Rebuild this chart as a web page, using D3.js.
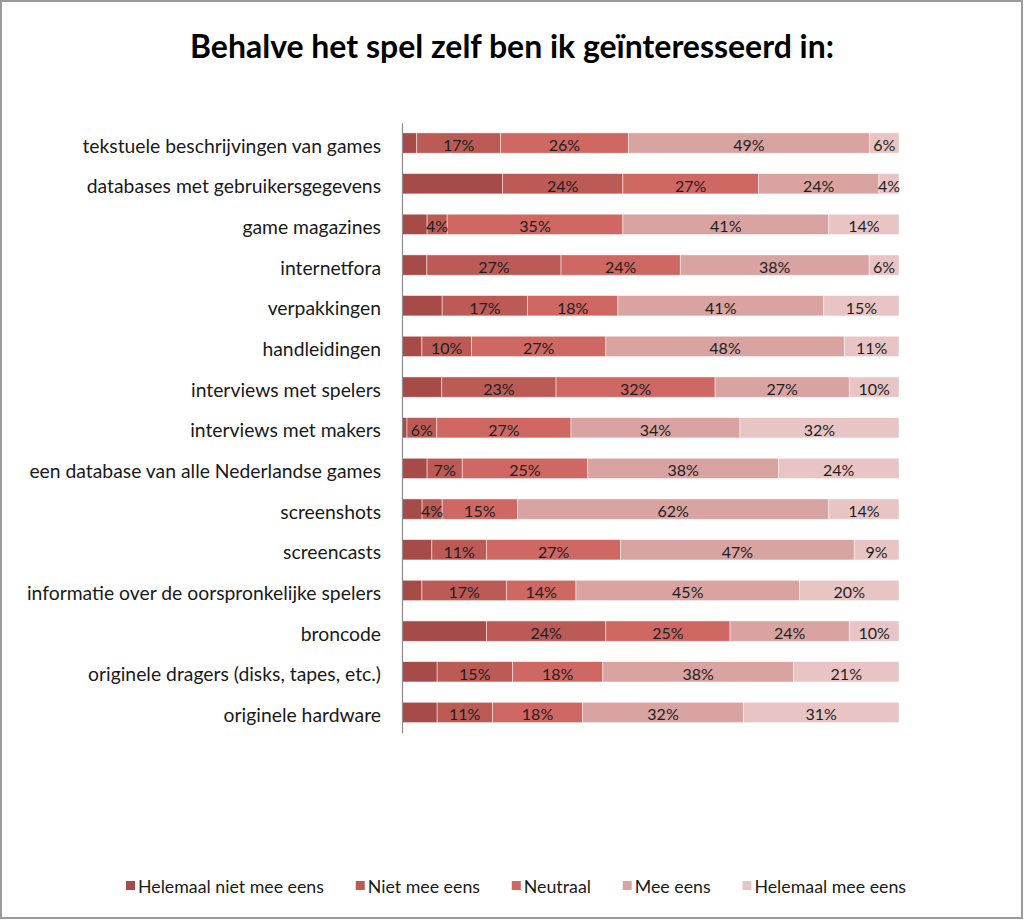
<!DOCTYPE html>
<html>
<head>
<meta charset="utf-8">
<script src="https://cdn.jsdelivr.net/npm/d3@7"></script>
<style>
  html, body { margin: 0; padding: 0; background: #fff; }
  svg { display: block; }
</style>
</head>
<body>
<svg id="chart" width="1024" height="920"></svg>
<script>
const title = "Behalve het spel zelf ben ik geïnteresseerd in:";
const categories = [
  "tekstuele beschrijvingen van games",
  "databases met gebruikersgegevens",
  "game magazines",
  "internetfora",
  "verpakkingen",
  "handleidingen",
  "interviews met spelers",
  "interviews met makers",
  "een database van alle Nederlandse games",
  "screenshots",
  "screencasts",
  "informatie over de oorspronkelijke spelers",
  "broncode",
  "originele dragers (disks, tapes, etc.)",
  "originele hardware"
];
const seriesNames = ["Helemaal niet mee eens", "Niet mee eens", "Neutraal", "Mee eens", "Helemaal mee eens"];
const helemaalNiet = [3, 20, 5, 5, 8, 4, 8, 1, 5, 4, 6, 4, 17, 7, 7];
const nietMee      = [17, 24, 4, 27, 17, 10, 23, 6, 7, 4, 11, 17, 24, 15, 11];
const neutraal     = [26, 27, 35, 24, 18, 27, 32, 27, 25, 15, 27, 14, 25, 18, 18];
const meeEens      = [49, 24, 41, 38, 41, 48, 27, 34, 38, 62, 47, 45, 24, 38, 32];
const helemaalMee  = [6, 4, 14, 6, 15, 11, 10, 32, 24, 14, 9, 20, 10, 21, 31];
const colors = ["#a64b48", "#bc5b56", "#cf6763", "#d9a3a1", "#e8c5c4"];

const seriesValues = [helemaalNiet, nietMee, neutraal, meeEens, helemaalMee];
const rows = categories.map((c, i) => {
  const r = { cat: c };
  seriesNames.forEach((s, j) => r[s] = seriesValues[j][i]);
  return r;
});

const svg = d3.select("#chart");
const W = 1024, H = 920;
const FONT = "Lato, 'Open Sans', sans-serif";

svg.append("rect").attr("x", 0).attr("y", 0).attr("width", W).attr("height", H).attr("fill", "#fff");
svg.append("rect").attr("x", 1).attr("y", 1).attr("width", 1021).attr("height", 917)
  .attr("fill", "none").attr("stroke", "#9a9a9a").attr("stroke-width", 2);

function fitWidth(sel, target) {
  const node = sel.node();
  const fs = parseFloat(sel.attr("font-size"));
  const w = node.getComputedTextLength();
  sel.attr("font-size", (fs * target / w).toFixed(2));
}

// Title
const t = svg.append("text")
  .attr("x", 512).attr("y", 58)
  .attr("text-anchor", "middle")
  .attr("font-family", FONT).attr("font-weight", "bold")
  .attr("font-size", 28).attr("fill", "#000")
  .text(title);
fitWidth(t, 644);

const x = d3.scaleLinear().domain([0, 1]).range([402, 899]);
const y = d3.scaleBand().domain(categories).range([122.7, 732.8]).paddingInner(0.5).paddingOuter(0.25);

const stack = d3.stack().keys(seriesNames).offset(d3.stackOffsetExpand);
const stacked = stack(rows);

const g = svg.append("g");
const layers = g.selectAll("g.layer").data(stacked).join("g")
  .attr("class", "layer")
  .attr("fill", (d, i) => colors[i]);

layers.selectAll("rect").data(d => d).join("rect")
  .attr("x", d => x(d[0]))
  .attr("y", d => y(d.data.cat))
  .attr("width", d => x(d[1]) - x(d[0]))
  .attr("height", y.bandwidth())
  .attr("stroke", "#ffffff").attr("stroke-opacity", 0.6).attr("stroke-width", 0.8);

// Data labels (all series except the first)
stacked.forEach((layer, li) => {
  if (li === 0) return;
  g.append("g").selectAll("text").data(layer).join("text")
    .attr("x", d => (x(d[0]) + x(d[1])) / 2)
    .attr("y", d => y(d.data.cat) + y.bandwidth() / 2)
    .attr("dy", "0.5em")
    .attr("text-anchor", "middle")
    .attr("font-family", FONT).attr("font-size", 16).attr("fill", "#1e1e1e")
    .text(d => d.data[layer.key] + "%");
});

// Axis
const axis = svg.append("g")
  .attr("transform", `translate(${x(0)},0)`)
  .call(d3.axisLeft(y).tickSize(0).tickSizeOuter(0).tickPadding(21));
axis.select(".domain").attr("stroke", "#8c8c8c").attr("stroke-width", 1.2);
axis.selectAll(".tick text")
  .attr("font-family", FONT).attr("font-size", 17).attr("fill", "#1a1a1a")
  .attr("dy", "0.5em");
let lw = 0;
axis.selectAll(".tick text").each(function() {
  const w = this.getComputedTextLength();
  if (w > lw) lw = w;
});
const labelFs = 17 * 354 / lw;
axis.selectAll(".tick text").attr("font-size", labelFs.toFixed(2));

// Legend
const legend = svg.append("g");
const items = legend.selectAll("g").data(seriesNames).join("g");
items.append("rect").attr("width", 9).attr("height", 9).attr("y", -5)
  .attr("fill", (d, i) => colors[i]);
items.append("text").attr("x", 12).attr("y", 0).attr("dy", "0.38em")
  .attr("font-family", FONT).attr("font-size", 15).attr("fill", "#1a1a1a")
  .text(d => d);
const firstW = items.select("text").node().getComputedTextLength();
const legFs = 15 * 186 / firstW;
items.selectAll("text").attr("font-size", legFs.toFixed(2));
const widths = [];
items.each(function() { widths.push(12 + d3.select(this).select("text").node().getComputedTextLength()); });
const start = 126;
const scaleGap = (906 - 126 - d3.sum(widths)) / (widths.length - 1);
items.attr("transform", (d, i) => {
  const px = start + d3.sum(widths.slice(0, i)) + scaleGap * i;
  return `translate(${px},886)`;
});
</script>
</body>
</html>
